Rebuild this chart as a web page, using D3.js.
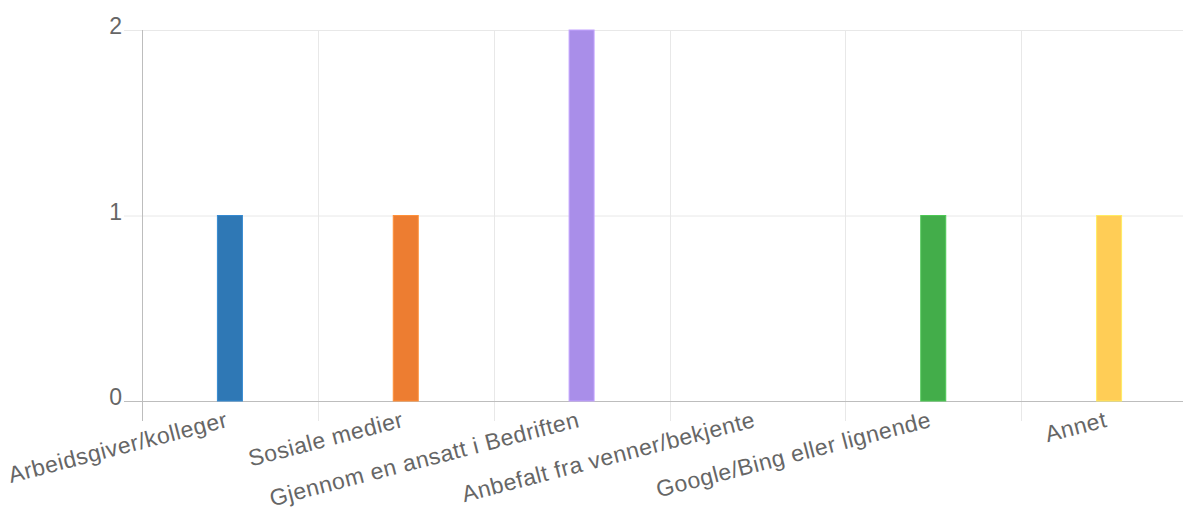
<!DOCTYPE html>
<html><head><meta charset="utf-8">
<script src="https://cdn.jsdelivr.net/npm/d3@7"></script>
<style>
html,body{margin:0;padding:0;background:#fff;overflow:hidden;}
svg{display:block;}
text{font-family:"Liberation Sans",Arial,Helvetica,sans-serif;}
</style></head>
<body>
<svg id="chart" width="1183" height="511"></svg>
<script>
const categories = ["Arbeidsgiver/kolleger","Sosiale medier","Gjennom en ansatt i Bedriften","Anbefalt fra venner/bekjente","Google/Bing eller lignende","Annet"];
const values = [1,1,2,0,1,1];
const colors = ["#2f78b5","#ed7d31","#a98ee9","#e0e0e0","#43ad4a","#ffcd56"];
const yTicks = [0,1,2];

(function(){
const svg = d3.select("#chart");
const mLeft = 142, mRight = 1197, mTop = 30, mBottom = 401;

const x = d3.scaleBand().domain(categories).range([mLeft, mRight]).padding(0);
const y = d3.scaleLinear().domain([0, 2]).range([mBottom, mTop]);

// horizontal grid
svg.append("g").selectAll("line").data(yTicks).join("line")
  .attr("x1", mLeft - 18).attr("x2", mRight)
  .attr("y1", d => y(d) + 0.5).attr("y2", d => y(d) + 0.5)
  .attr("stroke", d => d === 0 ? "#bdbdbd" : "#e8e8e8").attr("stroke-width", 1);

// vertical grid (category boundaries)
const bounds = categories.map(c => x(c));
svg.append("g").selectAll("line").data(bounds).join("line")
  .attr("x1", d => Math.round(d) + 0.5).attr("x2", d => Math.round(d) + 0.5)
  .attr("y1", mTop).attr("y2", mBottom + 20)
  .attr("stroke", (d, i) => i === 0 ? "#bdbdbd" : "#e8e8e8").attr("stroke-width", 1);

// bottom axis on top
svg.append("line").attr("x1", mLeft).attr("x2", mRight).attr("y1", mBottom + 0.5).attr("y2", mBottom + 0.5)
  .attr("stroke", "#bdbdbd");

// y labels
svg.append("g").selectAll("text").data(yTicks).join("text")
  .attr("x", 122).attr("y", d => y(d) - 4).attr("dy", "0.36em")
  .attr("text-anchor", "end").attr("font-size", 23).attr("fill", "#666")
  .text(d => d);

// bars
const bw = 25;
svg.append("g").selectAll("rect").data(categories.map((c, i) => ({c, v: values[i], col: colors[i]})).filter(d => d.v > 0)).join("rect")
  .attr("x", d => x(d.c) + x.bandwidth() / 2 - bw / 2)
  .attr("y", d => y(d.v))
  .attr("width", bw)
  .attr("height", d => y(0) - y(d.v))
  .attr("fill", d => d.col)
  .attr("stroke", d => d3.color(d.col).brighter(0.4))
  .attr("stroke-width", 1);

// x labels
svg.append("g").selectAll("text").data(categories).join("text")
  .attr("transform", d => `translate(${x(d) + x.bandwidth() / 2 - 5},${mBottom + 10}) rotate(-14.5)`)
  .attr("text-anchor", "end").attr("dy", "0.7em")
  .attr("font-size", 23).attr("letter-spacing", "0.5px").attr("fill", "#666")
  .text(d => d);
})();
</script>
</body></html>
